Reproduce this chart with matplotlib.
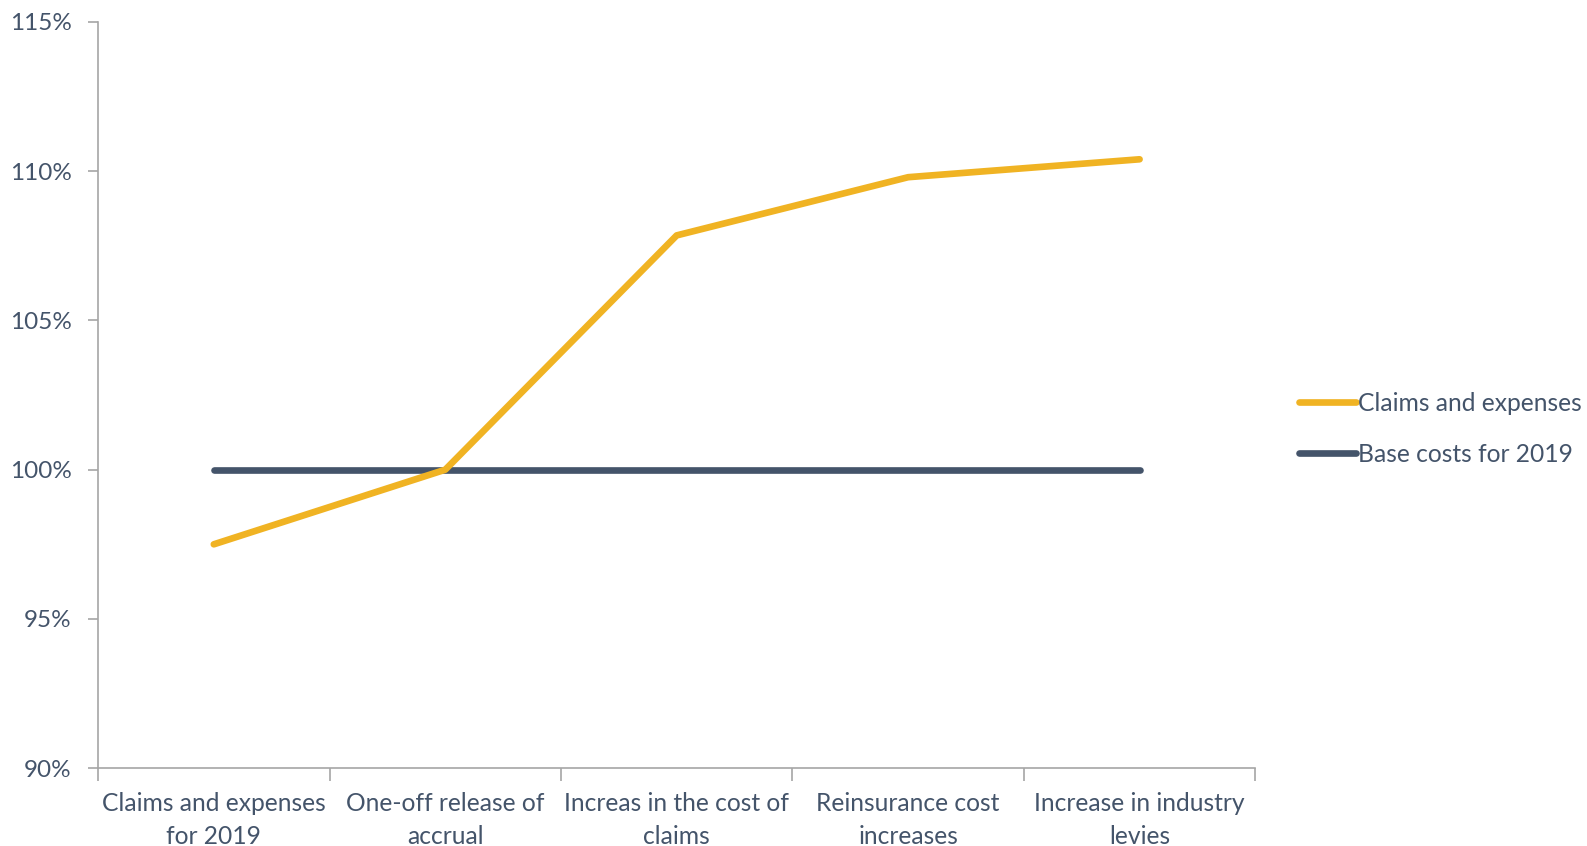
import numpy as np
import matplotlib.pyplot as plt
from matplotlib.ticker import FuncFormatter

# Data.
categories = ['Claims and expenses\nfor 2019', 'One-off release of\naccrual',
              'Increas in the cost of\nclaims', 'Reinsurance cost\nincreases',
              'Increase in industry\nlevies']
claims = [97.5, 100.0, 107.85, 109.8, 110.4]
base = [100, 100, 100, 100, 100]
y_ticks = [90, 95, 100, 105, 110, 115]

text_color = '#44546A'
yellow = '#F0B323'
dark = '#44546A'
spine_color = '#A6A6A6'

plt.rcParams['font.family'] = ['Lato', 'DejaVu Sans']

fig = plt.figure(figsize=(15.87, 8.46), dpi=100)
ax = fig.add_axes([0.0618, 0.092, 0.7292, 0.882])

x = np.arange(len(categories))
ax.plot(x, claims, color=yellow, lw=4.8, solid_capstyle='round',
        solid_joinstyle='round', label='Claims and expenses', zorder=3)
ax.plot(x, base, color=dark, lw=4.8, solid_capstyle='round',
        label='Base costs for 2019', zorder=2)

ax.set_xlim(-0.5, len(categories) - 0.5)
ax.set_ylim(90, 115)
ax.set_yticks(y_ticks)
ax.yaxis.set_major_formatter(FuncFormatter(lambda v, p: f'{v:.0f}%'))

ax.set_xticks(x)
ax.set_xticklabels(categories, fontsize=17.7, color=text_color, linespacing=1.55)
ax.set_xticks(np.arange(len(categories) + 1) - 0.5, minor=True)
ax.tick_params(axis='x', which='major', length=0, pad=17)
ax.tick_params(axis='x', which='minor', length=9, width=1.2, color=spine_color)
ax.tick_params(axis='y', length=7, width=1.2, color=spine_color,
               labelsize=17.5, labelcolor=text_color, pad=12)

for s in ['top', 'right']:
    ax.spines[s].set_visible(False)
for s in ['left', 'bottom']:
    ax.spines[s].set_color(spine_color)
    ax.spines[s].set_linewidth(1.2)

leg = ax.legend(loc='center left', bbox_to_anchor=(1.019, 0.455), frameon=False,
                fontsize=17.7, handlelength=2.3, handletextpad=0.1,
                labelspacing=1.15)
for t in leg.get_texts():
    t.set_color(text_color)

fig.savefig('out.png', dpi=100)
